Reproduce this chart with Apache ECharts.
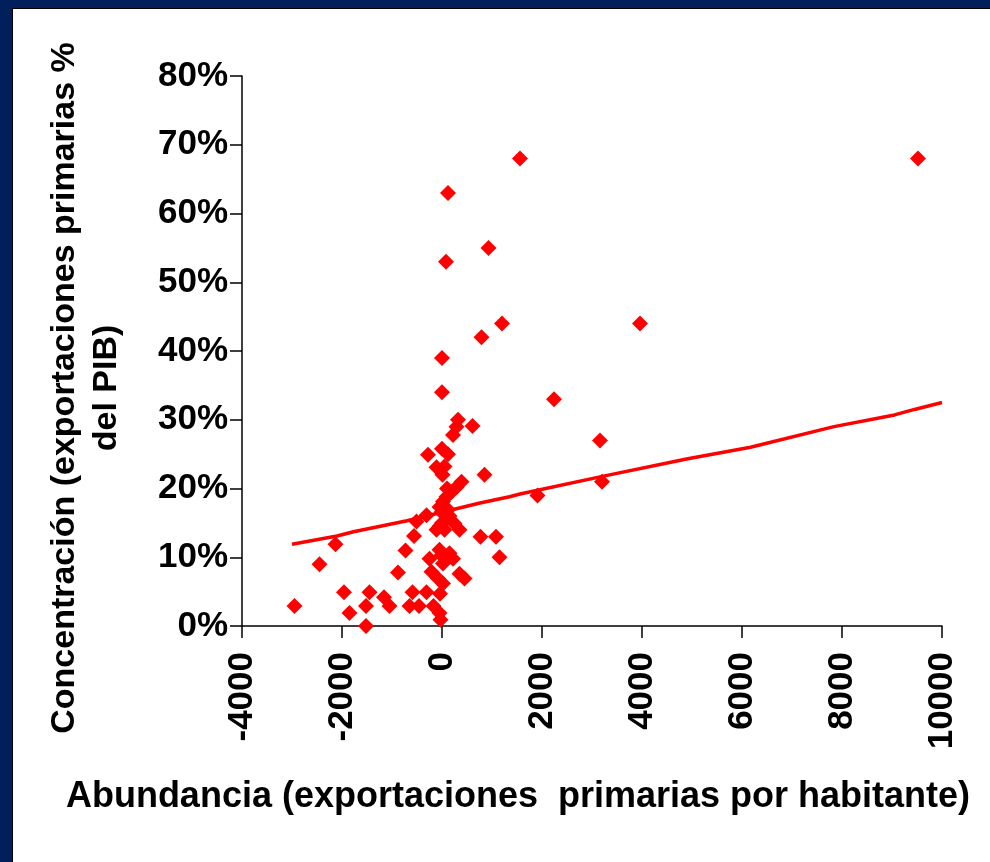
<!DOCTYPE html>
<html>
<head>
<meta charset="utf-8">
<script src="https://cdn.jsdelivr.net/npm/echarts@6/dist/echarts.min.js"></script>
<style>
html,body{margin:0;padding:0;background:#fff;}
#chart{width:990px;height:862px;}
</style>
</head>
<body>
<div id="chart"></div>
<script>
// x: abundance (primary exports per inhabitant), y: concentration (% of GDP)
const pointsX = [9520,1560,120,930,80,1200,3960,790,0,0,2240,3160,850,1910,3200,770,1080,1150,
  320,290,610,220,-280,0,120,-110,50,10,390,290,190,90,20,-50,120,-310,-510,-110,50,250,350,-560,-2130,
  -10,150,0,100,-50,
  -2450,-730,-50,-250,220,20,-880,-210,350,450,-80,20,-1960,-1450,-590,-310,-40,-1160,-1050,-2950,-1520,-650,-460,-170,-1850,-50,-30,-1520,150,-10];
const pointsY = [68,68,63,55,53,44,44,42,39,34,33,27,22,19,21,13,13,10,
  30,29,29.1,27.8,24.9,25.8,25,23.1,23.2,22,21,20.2,19.5,18.8,18.1,17.3,16.9,16.1,15.2,14,14,14.9,14,13.1,11.9,
  16.6,16,15,20,14.5,
  9,11,11.1,9.8,9.8,9.1,7.8,7.9,7.6,6.9,6.9,6.2,4.9,4.9,4.9,4.9,4.7,4.2,2.9,2.9,2.9,2.9,2.9,2.9,1.9,1.9,0.9,0,10.6,10.3];
// trend line
const trendX = [-3000,-2100,-1770,-700,760,1350,1560,3230,4890,6170,7840,9050,9450,10000];
const trendY = [11.9,13.1,13.7,15.3,17.9,18.8,19.2,21.8,24.3,26.0,29.0,30.7,31.5,32.5];
const xTicks = {min:-4000, max:10000, interval:2000};
const yTicks = {min:0, max:80, interval:10};
const xTitle = 'Abundancia (exportaciones  primarias por habitante)';
const yTitle1 = 'Concentración (exportaciones primarias %';
const yTitle2 = 'del PIB)';

const scatterData = pointsX.map((x,i)=>[x,pointsY[i]]);
const lineData = trendX.map((x,i)=>[x,trendY[i]]);
const FONT = '"Liberation Sans", Arial, sans-serif';

const chart = echarts.init(document.getElementById('chart'), null, {renderer:'canvas'});
chart.setOption({
  backgroundColor:'#ffffff',
  animation:false,
  grid:{left:242, right:48, top:76, bottom:236, containLabel:false},
  xAxis:{
    type:'value', min:xTicks.min, max:xTicks.max, interval:xTicks.interval,
    axisLine:{show:true, onZero:false, lineStyle:{color:'#000', width:1.5}},
    axisTick:{show:true, inside:false, length:12, lineStyle:{color:'#000', width:1.5}},
    splitLine:{show:false},
    axisLabel:{rotate:90, margin:26, color:'#000', fontFamily:FONT, fontWeight:'bold', fontSize:35,
      formatter:function(v){return String(v);}}
  },
  yAxis:{
    type:'value', min:yTicks.min, max:yTicks.max, interval:yTicks.interval,
    axisLine:{show:true, onZero:false, lineStyle:{color:'#000', width:1.5}},
    axisTick:{show:true, inside:false, length:12, lineStyle:{color:'#000', width:1.5}},
    splitLine:{show:false},
    axisLabel:{formatter:'{value}%', margin:14, color:'#000', fontFamily:FONT, fontWeight:'bold', fontSize:35}
  },
  series:[
    {type:'line', data:lineData, showSymbol:false, symbol:'none', lineStyle:{color:'#ff0000', width:3.5}, z:2},
    {type:'scatter', data:scatterData, symbol:'diamond', symbolSize:[16,16], itemStyle:{color:'#ff0000', opacity:1}, z:3}
  ],
  graphic:[
    {type:'rect', left:0, top:0, shape:{width:12, height:862}, style:{fill:'#001F5B'}, silent:true},
    {type:'rect', left:0, top:0, shape:{width:990, height:8}, style:{fill:'#001F5B'}, silent:true},
    {type:'rect', left:12, top:8, shape:{width:1, height:854}, style:{fill:'#000'}, silent:true},
    {type:'rect', left:12, top:8, shape:{width:978, height:1}, style:{fill:'#000'}, silent:true},
    {type:'text', x:518, y:797, style:{text:xTitle, font:'bold 36px '+FONT, fill:'#000', textAlign:'center', textVerticalAlign:'middle'}},
    {type:'text', x:65, y:388, rotation:Math.PI/2, style:{text:yTitle1, font:'bold 34px '+FONT, fill:'#000', textAlign:'center', textVerticalAlign:'middle'}},
    {type:'text', x:107, y:388, rotation:Math.PI/2, style:{text:yTitle2, font:'bold 34px '+FONT, fill:'#000', textAlign:'center', textVerticalAlign:'middle'}}
  ]
});
</script>
</body>
</html>
